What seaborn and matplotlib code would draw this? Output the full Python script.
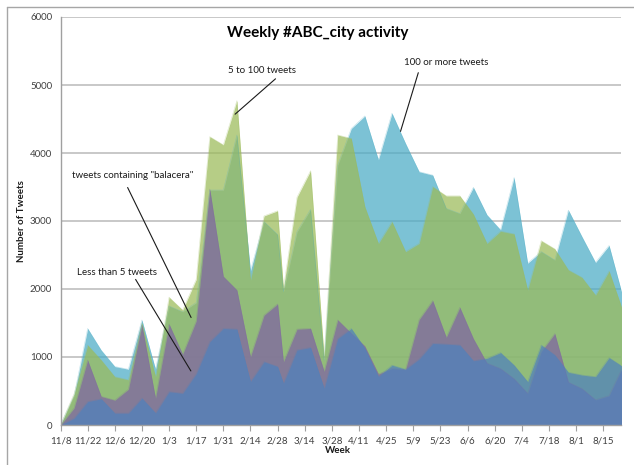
import matplotlib
matplotlib.use("Agg")
import matplotlib.pyplot as plt
from matplotlib.lines import Line2D
import pandas as pd
import seaborn as sns

# Week start dates
weeks = [
    "2010-11-08", "2010-11-15", "2010-11-22", "2010-11-29", "2010-12-06",
    "2010-12-13", "2010-12-20", "2010-12-27", "2011-01-03", "2011-01-10",
    "2011-01-17", "2011-01-24", "2011-01-31", "2011-02-07", "2011-02-14",
    "2011-02-21", "2011-02-28", "2011-03-03", "2011-03-10", "2011-03-17",
    "2011-03-24", "2011-03-31", "2011-04-07", "2011-04-14", "2011-04-21",
    "2011-04-28", "2011-05-05", "2011-05-12", "2011-05-19", "2011-05-26",
    "2011-06-02", "2011-06-09", "2011-06-16", "2011-06-23", "2011-06-30",
    "2011-07-07", "2011-07-14", "2011-07-21", "2011-07-28", "2011-08-04",
    "2011-08-11", "2011-08-18", "2011-08-25",
]

# Number of tweets per week, by user group
more_than_100 = [
    0, 430, 1420, 1100, 860, 820, 1545, 820, 1750, 1665,
    1800, 3455, 3455, 4265, 2270, 2990, 2800, 1960, 2840, 3170,
    950, 3820, 4360, 4545, 3900, 4585, 4140, 3725, 3675, 3185,
    3110, 3495, 3090, 2870, 3640, 2380, 2550, 2425, 3160, 2770,
    2390, 2640, 1900,
]
five_to_100 = [
    0, 460, 1175, 955, 710, 665, 1500, 710, 1880, 1690,
    2140, 4240, 4120, 4770, 2130, 3075, 3150, 2010, 3350, 3740,
    1000, 4265, 4215, 3210, 2670, 2990, 2550, 2670, 3505, 3370,
    3370, 3100, 2670, 2850, 2810, 1985, 2710, 2590, 2280, 2170,
    1910, 2265, 1690,
]
balacera = [
    0, 250, 955, 420, 365, 525, 1470, 395, 1485, 1040,
    1530, 3470, 2185, 1985, 1005, 1615, 1780, 930, 1410, 1420,
    790, 1545, 1350, 1160, 750, 830, 815, 1550, 1830, 1290,
    1730, 1270, 910, 830, 680, 465, 1080, 1345, 630, 535,
    370, 430, 850,
]
less_than_5 = [
    0, 100, 345, 385, 175, 175, 395, 178, 490, 466,
    755, 1225, 1420, 1410, 640, 931, 860, 615, 1103, 1140,
    540, 1270, 1420, 1130, 715, 880, 820, 970, 1200, 1190,
    1176, 945, 980, 1065, 880, 637, 1176, 1030, 775, 735,
    711, 990, 860,
]

series_names = ["100 or more tweets", "5 to 100 tweets",
                "tweets containing \"balacera\"", "Less than 5 tweets"]
series_colors = ["#4BACC6", "#9BBB59", "#8064A2", "#4F81BD"]

df = pd.DataFrame({
    "week": pd.to_datetime(weeks),
    series_names[0]: more_than_100,
    series_names[1]: five_to_100,
    series_names[2]: balacera,
    series_names[3]: less_than_5,
})
long = df.melt(id_vars="week", var_name="group", value_name="tweets")

sns.set_theme(style="white")
plt.rcParams["font.family"] = ["Lato", "DejaVu Sans"]

W, H = 634, 465
fig = plt.figure(figsize=(W / 100, H / 100), dpi=100)
ax = fig.add_axes([60.5 / W, 1 - 425 / H, (620.7 - 60.5) / W, (425 - 17) / H])

# overlapping translucent areas, back to front
for name, col in zip(series_names, series_colors):
    sub = long[long["group"] == name]
    ax.fill_between(sub["week"], 0, sub["tweets"], color=col, alpha=0.73,
                    linewidth=0, zorder=2)
sns.lineplot(data=long, x="week", y="tweets", hue="group",
             hue_order=series_names, palette=series_colors, ax=ax,
             linewidth=0.4, alpha=0.35, legend=False, zorder=3)

start = pd.Timestamp("2010-11-08")
ax.set_xlim(start, pd.Timestamp("2011-08-24"))
ax.set_ylim(0, 6000)

tick_dates = pd.date_range(start, periods=21, freq="14D")
ax.set_xticks(tick_dates)
ax.set_xticklabels([f"{d.month}/{d.day}" for d in tick_dates])
ax.set_yticks(range(0, 6001, 1000))
ax.tick_params(axis="x", length=4, width=0.8, color="#a0a0a0", pad=4,
               labelsize=7, labelcolor="#404040", bottom=True)
ax.tick_params(axis="y", length=0, pad=6, labelsize=7, labelcolor="#404040")

ax.set_axisbelow(True)
ax.yaxis.grid(True, color="#c4c4c4", linewidth=1.3, zorder=0)
ax.xaxis.grid(False)
for side in ["top", "right"]:
    ax.spines[side].set_visible(False)
for side in ["left", "bottom"]:
    ax.spines[side].set_color("#a0a0a0")
    ax.spines[side].set_linewidth(1.0)
    ax.spines[side].set_zorder(4)
ax.set_xlabel("")
ax.set_ylabel("")

# callouts
def callout(label, text_at, line_from, line_to):
    ax.text(pd.Timestamp(text_at[0]), text_at[1], label, ha="center",
            va="center", fontsize=7, color="#1a1a1a", zorder=6)
    ax.annotate("", xy=(pd.Timestamp(line_to[0]), line_to[1]),
                xytext=(pd.Timestamp(line_from[0]), line_from[1]),
                arrowprops=dict(arrowstyle="-", color="#1a1a1a", lw=0.8),
                zorder=6)

callout("5 to 100 tweets", ("2011-02-20", 5220),
        ("2011-02-28", 5118), ("2011-02-05", 4544))
callout("100 or more tweets", ("2011-05-26", 5338),
        ("2011-05-12", 5220), ("2011-05-02", 4279))
callout("tweets containing \"balacera\"", ("2010-12-15", 3676),
        ("2010-12-12", 3529), ("2011-01-15", 1544))
callout("Less than 5 tweets", ("2010-12-07", 2240),
        ("2010-12-16", 2176), ("2011-01-15", 760))

fig.text(318 / W, 1 - 33 / H, "Weekly #ABC_city activity", ha="center",
         va="center", fontsize=11, fontweight="bold", color="#000000")
fig.text(22 / W, 1 - 221 / H, "Number of Tweets", rotation=90, ha="center",
         va="center", fontsize=7, fontweight="bold", color="#1a1a1a")
fig.text(338 / W, 1 - 450 / H, "Week", ha="center", va="center",
         fontsize=7, fontweight="bold", color="#1a1a1a")

# chart frame
frame_kw = dict(color="#a6a6a6", linewidth=1.0, transform=fig.transFigure)
fig.add_artist(Line2D([7 / W, 7 / W], [0, 1 - 7 / H], **frame_kw))
fig.add_artist(Line2D([7 / W, 1], [1 - 7 / H, 1 - 7 / H], **frame_kw))

fig.savefig("out.png", dpi=100, facecolor="white")
